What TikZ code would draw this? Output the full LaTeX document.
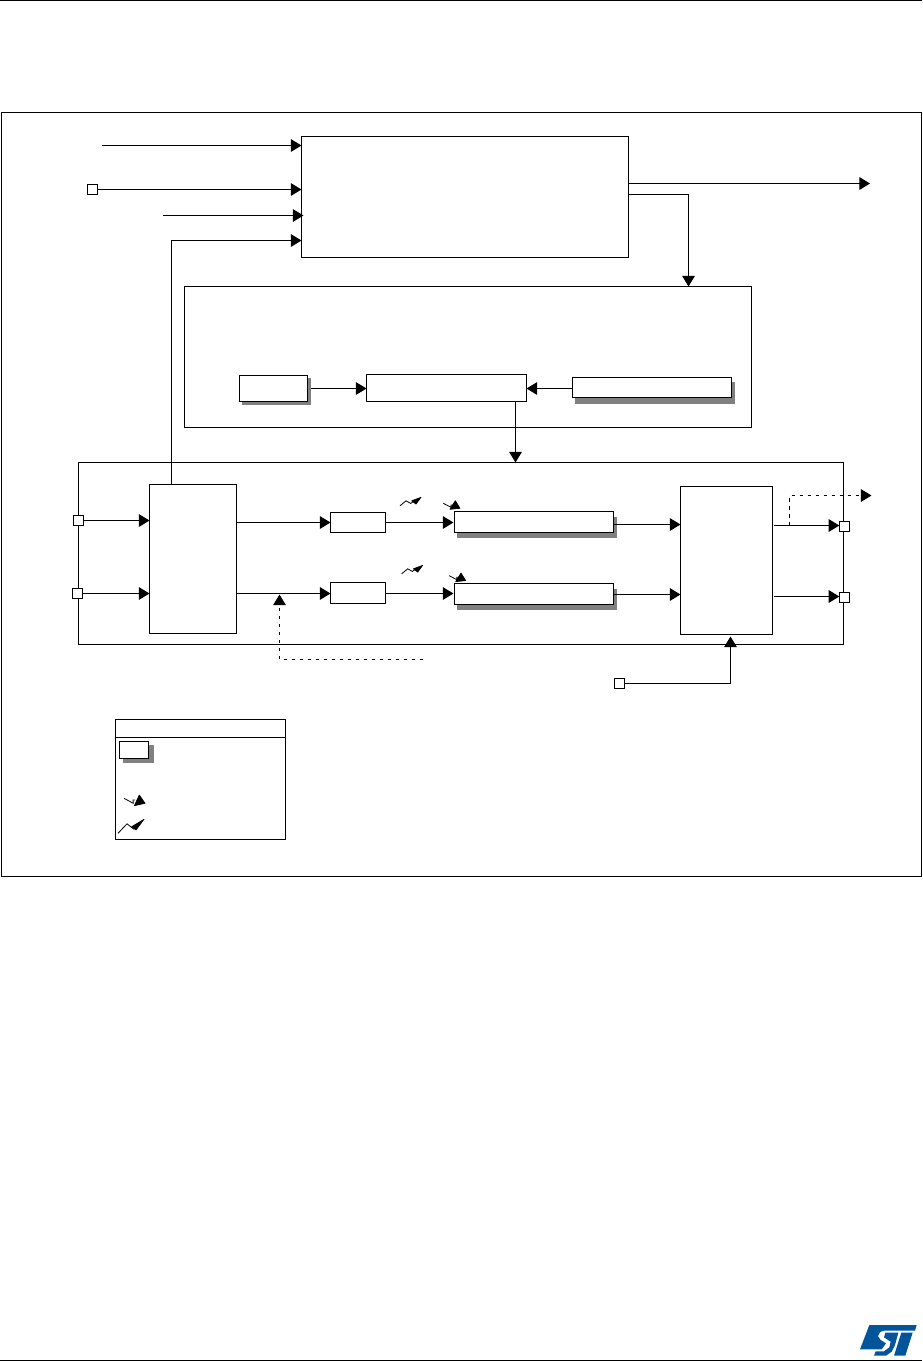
\documentclass[tikz,border=0pt]{standalone}
\usetikzlibrary{arrows.meta,calc}
\definecolor{stblue}{HTML}{03559B}
\definecolor{shadowgray}{HTML}{808080}
\tikzset{
  x=0.75pt,y=-0.75pt,
  box/.style={draw=black,fill=white,inner sep=0pt,outer sep=0pt,line width=0.8pt},
  pinbox/.style={draw=black,fill=white,inner sep=0pt,outer sep=0pt,minimum size=7.8pt,line width=0.8pt},
  arr/.style={-{Triangle[length=8pt,width=9.5pt]},line width=0.8pt},
  dasharr/.style={-{Triangle[length=8pt,width=9.5pt]},line width=0.8pt,dash pattern=on 2.6pt off 3.4pt},
  plainline/.style={line width=0.8pt},
  zig/.style={line width=0.6pt},
  zighead/.style={fill=black,draw=black,line width=0.5pt,line join=round},
  rule/.style={line width=1pt}
}
% name, x1,y1,x2,y2, extra options
\newcommand{\bx}[6][]{\node[box,minimum width=0.75pt*(#5-#3),minimum height=0.75pt*(#6-#4),#1] (#2) at ({(#3+#5)/2},{(#4+#6)/2}) {};}
\newcommand{\shd}[4]{\fill[shadowgray] (#1,#2) rectangle (#3,#4);}
\newcommand{\risezig}[2]{\begin{scope}[shift={(#1,#2)}]
  \draw[zig] (0,8.5) -- (6,3.5) -- (10.7,6.1) -- (13,4.5);
  \filldraw[zighead] (21,0) -- (11.7,3.5) -- (16,6.8) -- cycle;
\end{scope}}
\newcommand{\fallzig}[2]{\begin{scope}[shift={(#1,#2)}]
  \draw[zig] (0,2.8) -- (7.7,6.8) -- (7.7,4.5) -- (10,4.5);
  \filldraw[zighead] (12,0.2) -- (16.7,7.8) -- (6.7,8.8) -- cycle;
\end{scope}}
\begin{document}
\begin{tikzpicture}
\useasboundingbox (0,0) rectangle (922,1361);
\fill[white] (0,0) rectangle (922,1361);
% page rules
\coordinate (ruleTL) at (0,0.5); \coordinate (ruleTR) at (922,0.5);
\coordinate (ruleBL) at (0,1360.5); \coordinate (ruleBR) at (922,1360.5);
\draw[rule] (ruleTL) -- (ruleTR);
\draw[rule] (ruleBL) -- (ruleBR);
% frame
\bx{frame}{1.5}{112.5}{921.5}{876.5}
% top block
\bx{topb}{301.5}{136.5}{628.5}{257.5}
% middle block
\bx{midb}{184.5}{286.5}{751.5}{427.5}
\shd{242}{378}{311}{405}
\bx{srcb}{239.5}{375.5}{307.5}{401.5}
\bx{cenb}{366.5}{374.5}{526.5}{401.5}
\shd{575}{382}{735}{404}
\bx{refb}{572.5}{377.5}{731.5}{397.5}
% lower block
\bx{lowb}{78.5}{462.5}{843.5}{644.5}
\bx{leftb}{149.5}{484.5}{236.5}{633.5}
\bx{regA}{330.5}{512.5}{385.5}{532.5}
\bx{regB}{330.5}{582.5}{385.5}{603.5}
\shd{457}{517}{617}{538}
\bx{longA}{454.5}{511.5}{613.5}{532.5}
\shd{457}{589}{617}{610}
\bx{longB}{454.5}{583.5}{613.5}{604.5}
\bx{rightb}{680.5}{486.5}{772.5}{634.5}
% ports
\node[pinbox] (pinA) at (92.5,189.5) {};
\node[pinbox] (pinB) at (78.5,520.5) {};
\node[pinbox] (pinC) at (77.5,593.5) {};
\node[pinbox] (pinD) at (844.5,526.5) {};
\node[pinbox] (pinE) at (844.5,597.5) {};
\node[pinbox] (pinF) at (619.5,683.5) {};
% free ends
\coordinate (inA) at (102,145.5);
\coordinate (inC) at (163,215.5);
\coordinate (outE) at (870,183.5);
\coordinate (dashS) at (423,659.5);
\coordinate (dashE) at (279.5,594.5);
\coordinate (tapR) at (789.5,525.5);
\coordinate (dashOut) at (871.5,495.5);
% connectors to the top block
\draw[arr] (inA) -- (topb.west |- inA);
\draw[arr] (pinA) -- (topb.west |- pinA);
\draw[arr] (inC) -- ([xshift=1.5pt]topb.west |- inC);
\coordinate (fbS) at (171.5,484.5); \coordinate (fbE) at (301.5,240.5);
\draw[arr] (fbS) |- (fbE);
\draw[arr] (topb.east |- outE) -- (outE);
\coordinate (topS) at (628.5,194.5); \coordinate (midE) at (688.5,286.5);
\draw[arr] (topS) -| (midE);
% middle block
\coordinate (srcO) at (311,388.5); \coordinate (refO) at (572.5,388.5);
\draw[arr] (srcO) -- (cenb.west |- srcO);
\draw[arr] (refO) -- (cenb.east |- refO);
\coordinate (cenS) at (515.5,401.5); \coordinate (lowE) at (515.5,462.5);
\draw[arr] (cenS) -- (lowE);
% lower block
\draw[arr] (pinB) -- (leftb.west |- pinB);
\draw[arr] (pinC) -- (leftb.west |- pinC);
\draw[arr] (leftb.east |- regA) -- (regA);
\coordinate (lineB) at (236.5,593.5);
\draw[arr] (lineB) -- (regB.west |- lineB);
\draw[arr] (regA) -- ([xshift=-0.8pt]longA.west |- regA);
\coordinate (lineC) at (385.5,593.5);
\draw[arr] (lineC) -- ([xshift=-0.8pt]longB.west |- lineC);
\coordinate (longAo) at (613.5,524.5); \coordinate (longBo) at (613.5,594.5);
\draw[arr] (longAo) -- (rightb.west |- longAo);
\draw[arr] (longBo) -- (rightb.west |- longBo);
\coordinate (rAo) at (774,525.5); \coordinate (rBo) at (774,596.5);
\draw[arr] (rAo) -- (pinD.west |- rAo);
\draw[arr] (rBo) -- (pinE.west |- rBo);
\draw[dasharr] (tapR) |- (dashOut);
\draw[dasharr] (dashS) -| (dashE);
\coordinate (rInE) at (730.5,636.5);
\draw[arr] (pinF) -| (rInE);
% clock marks
\risezig{400}{497.3}
\risezig{401.7}{565.3}
\fallzig{443.3}{500.5}
\fallzig{449}{572.8}
% legend
\bx{legend}{115.5}{719.5}{285.5}{839.5}
\coordinate (legL) at (115.5,737.5); \coordinate (legR) at (285.5,737.5);
\draw[plainline] (legL) -- (legR);
\shd{123}{745}{154}{763}
\bx{legbox}{119.5}{741.5}{148.5}{758.5}
\begin{scope}[shift={(124,795)}]
  \draw[zig] (0,3.3) -- (9.3,8.3) -- (9,5) -- (11,5);
  \filldraw[zighead] (15.3,0) -- (21,8.3) -- (10.3,10.7) -- cycle;
\end{scope}
\begin{scope}[shift={(118,819.3)}]
  \draw[zig] (0,14) -- (9,4.5) -- (16,10);
  \filldraw[zighead] (26,0) -- (13.7,7.4) -- (18,10.7) -- cycle;
\end{scope}
% ST logo
\begin{scope}[shift={(780,1290)},x=0.25pt,y=-0.25pt]
  \fill[stblue] (268,105) -- (410,105) -- (405,122) -- (312,122) -- (300,126) -- (294,138)
     -- (302,150) -- (318,160) -- (305,178) -- (240,178) -- cycle;
  \fill[stblue] (316,128) -- (355,128) -- (345,165) -- (335,185) -- (318,197) -- (282,197)
     -- (287,184) -- (312,184) -- (328,172) -- (332,155) -- (312,142) -- cycle;
  \fill[stblue] (364,128) -- (398,128) -- (376,197) -- (342,197) -- cycle;
\end{scope}
\end{tikzpicture}
\end{document}
